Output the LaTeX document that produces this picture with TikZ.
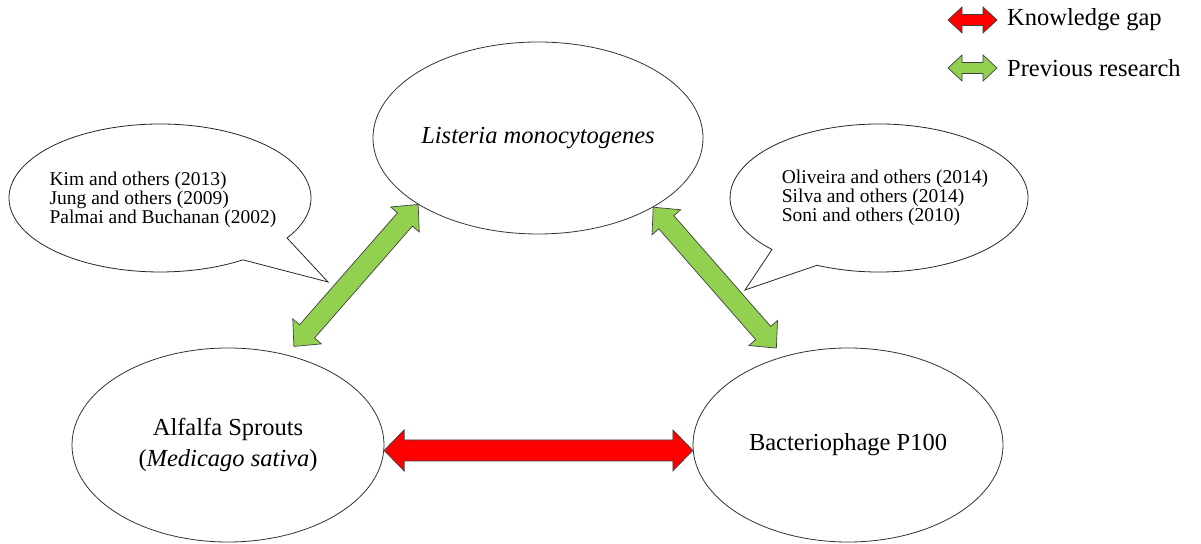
\documentclass[tikz,border=0pt]{standalone}
\usepackage{fontspec}
\setmainfont{Liberation Serif}
\usetikzlibrary{calc,shapes.geometric}
\definecolor{gapred}{RGB}{255,0,0}
\definecolor{prevgreen}{RGB}{146,208,80}
% block double arrow: fill, from, to, half shaft, half head, head length
\newcommand{\blockarrow}[6]{%
  \draw[arrowline,fill=#1] (#2)
    -- ($(#2)!#6!(#3)!#5!90:(#3)$)
    -- ($(#2)!#6!(#3)!#4!90:(#3)$)
    -- ($(#3)!#6!(#2)!#4!-90:(#2)$)
    -- ($(#3)!#6!(#2)!#5!-90:(#2)$)
    -- (#3)
    -- ($(#3)!#6!(#2)!#5!90:(#2)$)
    -- ($(#3)!#6!(#2)!#4!90:(#2)$)
    -- ($(#2)!#6!(#3)!#4!-90:(#3)$)
    -- ($(#2)!#6!(#3)!#5!-90:(#3)$)
    -- cycle;}

\begin{document}
\begin{tikzpicture}[x=1pt,y=1pt,
    topic/.style={draw=black!80,line width=0.8pt,ellipse,inner sep=0pt,align=center,font=\fontsize{24.5}{31}\selectfont},
    cite/.style={align=left,inner sep=0pt,font=\fontsize{19.5}{19.3}\selectfont},
    bubble/.style={draw=black!85,line width=0.8pt,line join=miter,fill=white},
    arrowline/.style={draw=black!75,line width=0.7pt,line join=miter},
    keytext/.style={anchor=west,inner sep=0pt,font=\fontsize{24.5}{29}\selectfont}]
  \useasboundingbox (0,0) rectangle (1201,543);
  \node[topic,minimum width=312pt,minimum height=192pt] (listeria) at (538,405) {\itshape Listeria monocytogenes};
  \node[topic,minimum width=312pt,minimum height=194pt] (alfalfa) at (228,98) {Alfalfa Sprouts\\(\textit{Medicago sativa})};
  \node[topic,minimum width=310pt,minimum height=194pt] (phage) at (848,98) {Bacteriophage P100};
  % callouts
  \coordinate (lbub) at (160,345);
  \coordinate (rbub) at (879,345);
  \draw[bubble] (lbub) ++(-32.7:151 and 74) arc[start angle=-32.7,end angle=303.3,x radius=151,y radius=74]
    -- ($(lbub)+(168,-84)$) -- cycle;
  \draw[bubble] (rbub) ++(245.4:149 and 74) arc[start angle=245.4,end angle=584.1,x radius=149,y radius=74]
    -- ($(rbub)+(-134,-92)$) -- cycle;
  \node[cite] (leftrefs) at (163,343) {Kim and others (2013)\\Jung and others (2009)\\Palmai and Buchanan (2002)};
  \node[cite] (rightrefs) at (885,345) {Oliveira and others (2014)\\Silva and others (2014)\\Soni and others (2010)};
  % arrows between topics
  \coordinate (lgA) at ($(alfalfa.57)!11pt!(listeria.209)$);
  \coordinate (rgB) at ($(phage.126)!11pt!(listeria.-31)$);
  \blockarrow{prevgreen}{lgA}{listeria.209}{10pt}{19pt}{20pt}
  \blockarrow{prevgreen}{listeria.-31}{rgB}{10pt}{19pt}{20pt}
  \blockarrow{gapred}{alfalfa.-2}{phage.182}{10.5pt}{20.5pt}{20pt}
  % legend
  \node[keytext] (gapkey) at (1007,523) {Knowledge gap};
  \node[keytext] (prevkey) at (1007,475) {Previous research};
  \coordinate (gapL) at ($(gapkey.west)+(-59,0)$);
  \coordinate (gapR) at ($(gapkey.west)+(-10,0)$);
  \coordinate (prevL) at ($(prevkey.west)+(-59,0)$);
  \coordinate (prevR) at ($(prevkey.west)+(-10,0)$);
  \blockarrow{gapred}{gapL}{gapR}{5.5pt}{13pt}{14pt}
  \blockarrow{prevgreen}{prevL}{prevR}{5.5pt}{13pt}{14pt}
\end{tikzpicture}
\end{document}
